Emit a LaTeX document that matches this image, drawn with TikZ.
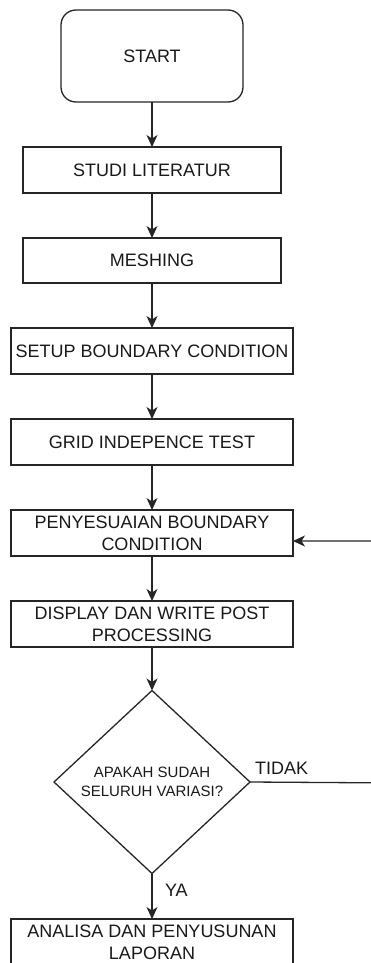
\documentclass[tikz,border=0pt]{standalone}
\usepackage{fontspec}
\setmainfont{Liberation Sans}
\usetikzlibrary{shapes.geometric,arrows.meta}
\begin{document}
\begin{tikzpicture}[x=1pt,y=-1pt,
  every node/.style={inner sep=0pt,outer sep=0pt,text=black!90},
  line/.style={draw=black!85,line width=1.3pt},
  flowbox/.style={line,rectangle,align=center,minimum height=46pt,
    font=\fontsize{18}{22}\selectfont},
  wide/.style={flowbox,minimum width=282pt},
  narrow/.style={flowbox,minimum width=258pt},
  decision/.style={line,diamond,aspect=1.07,minimum width=196pt,minimum height=183pt,
    align=center,font=\fontsize{15}{19}\selectfont},
  flow/.style={line,-{Stealth[length=12pt,width=11pt,inset=3.5pt]}},
  lbl/.style={font=\fontsize{18}{22}\selectfont,anchor=base west}]
\useasboundingbox (0,0) rectangle (371,963);
\fill[white] (0,0) rectangle (371,963);
\clip (0,0) rectangle (371,963);

\node[line,rounded corners=15pt,minimum width=182pt,minimum height=92pt,
  font=\fontsize{18}{22}\selectfont] (start) at (152,56) {START};
\node[narrow] (studi) at (152,170) {STUDI LITERATUR};
\node[narrow,minimum height=45pt] (mesh) at (152,260.5) {MESHING};
\node[wide] (setup) at (152,351) {SETUP BOUNDARY CONDITION};
\node[wide] (grid) at (152,442) {GRID INDEPENCE TEST};
\node[wide] (pen) at (152,533) {PENYESUAIAN BOUNDARY\\CONDITION};
\node[wide] (disp) at (152,624) {DISPLAY DAN WRITE POST\\PROCESSING};
\node[decision] (dec) at (152,782) {APAKAH SUDAH\\SELURUH VARIASI?};
\node[wide] (ana) at (152,942) {ANALISA DAN PENYUSUNAN\\LAPORAN};

\coordinate (loopin) at (400,783);
\coordinate (loopup) at (400,541);
\coordinate (penin) at (pen.east |- loopup);

\draw[flow] (start) -- (studi);
\draw[flow] (studi) -- (mesh);
\draw[flow] (mesh) -- (setup);
\draw[flow] (setup) -- (grid);
\draw[flow] (grid) -- (pen);
\draw[flow] (pen) -- (disp);
\draw[flow] (disp.south) -- (dec.north);
\draw[flow] (dec.south) -- (ana.north);
\draw[flow] (dec.east) -- (loopin) -- (loopup) -- (penin);

\node[lbl] (ya) at (165,896) {YA};
\node[lbl] (tidak) at (255,774) {TIDAK};
\end{tikzpicture}
\end{document}
